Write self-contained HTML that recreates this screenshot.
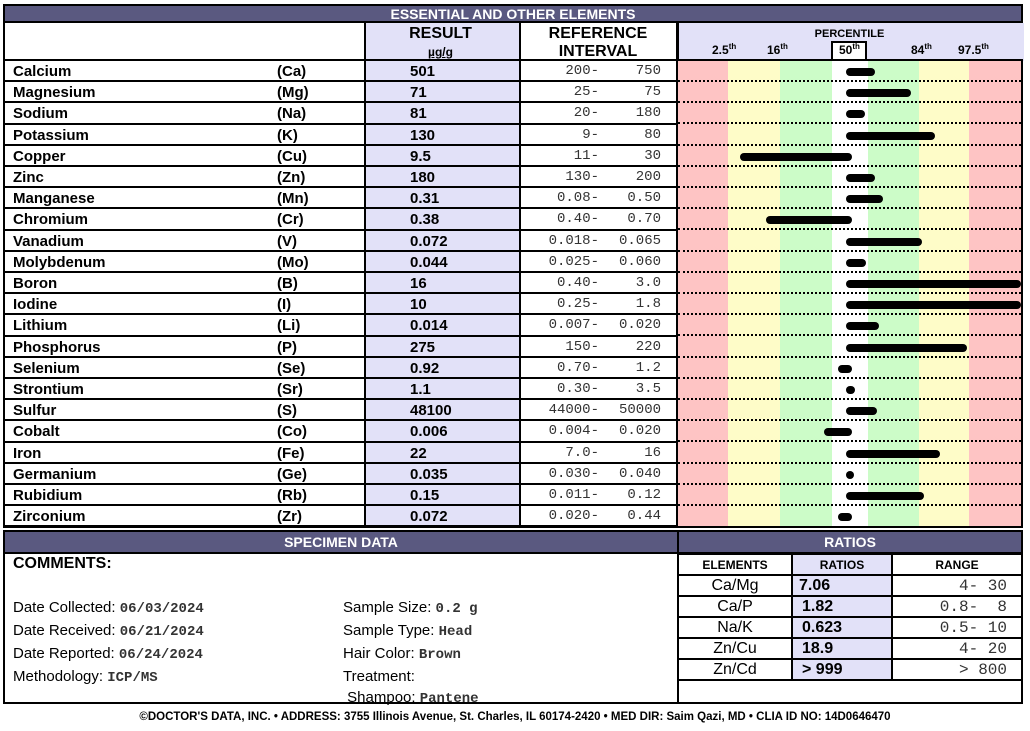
<!DOCTYPE html><html><head><style>
body{margin:0;width:1030px;height:731px;background:#fff;position:relative;font-family:"Liberation Sans",Arial,sans-serif;overflow:hidden}
.a{position:absolute}
.hdr{background:#5a5980;color:#fff;font-weight:bold;font-size:14px;text-align:center;border:2px solid #000;box-sizing:border-box}
.row{position:absolute;left:3px;width:674px;height:21.2px;border-bottom:2px solid #000;box-sizing:border-box;font-size:15px;font-weight:bold}
.row span{position:absolute;top:2px}
.mono{font-family:"Liberation Mono",monospace;font-weight:normal;font-size:14px;color:#333}
.bar{position:absolute;height:8px;background:#000;border-radius:4px}
.dot{position:absolute;left:678px;width:343px;border-bottom:2px dotted #000}
.rt td{border:2px solid #000;height:19px;padding:0;text-align:center;font-size:16px}
</style></head><body>
<div class="a" style="left:3px;top:4px;width:1020px;height:524px;border:2px solid #000;box-sizing:border-box"></div>
<div class="a hdr" style="left:3px;top:4px;width:1020px;height:19px;line-height:17px">ESSENTIAL AND OTHER ELEMENTS</div>
<div class="a" style="left:364px;top:23px;width:153px;height:504px;background:#e2e1f8;border-left:2px solid #000;border-right:2px solid #000"></div>
<div class="a" style="left:677px;top:23px;width:345px;height:38px;background:#e2e1f8;border-left:2px solid #000"></div>
<div class="a" style="left:364px;top:25px;width:153px;text-align:center;font-weight:bold;font-size:16px;line-height:18px">RESULT<br><span style="font-size:12px;text-decoration:underline">µg/g</span></div>
<div class="a" style="left:519px;top:25px;width:158px;text-align:center;font-weight:bold;font-size:16px;line-height:18px">REFERENCE<br>INTERVAL</div>
<div class="a" style="left:677px;top:28px;width:345px;text-align:center;font-weight:bold;font-size:11px">PERCENTILE</div>
<div class="a" style="left:831px;top:41px;width:36px;height:20px;background:#fff;border:2px solid #000;border-bottom:none;box-sizing:border-box"></div>
<div class="a" style="top:42px;left:712px;font-weight:bold;font-size:12px">2.5<sup style="font-size:8px">th</sup></div>
<div class="a" style="top:42px;left:767px;font-weight:bold;font-size:12px">16<sup style="font-size:8px">th</sup></div>
<div class="a" style="top:42px;left:839px;font-weight:bold;font-size:12px">50<sup style="font-size:8px">th</sup></div>
<div class="a" style="top:42px;left:911px;font-weight:bold;font-size:12px">84<sup style="font-size:8px">th</sup></div>
<div class="a" style="top:42px;left:958px;font-weight:bold;font-size:12px">97.5<sup style="font-size:8px">th</sup></div>
<div class="a" style="left:3px;top:59px;width:1020px;border-top:2px solid #000"></div>
<div class="a" style="left:678px;top:61px;width:50px;height:465px;background:#fec4c4"></div>
<div class="a" style="left:728px;top:61px;width:52px;height:465px;background:#fefcc8"></div>
<div class="a" style="left:780px;top:61px;width:52px;height:465px;background:#ccfcc8"></div>
<div class="a" style="left:868px;top:61px;width:51px;height:465px;background:#ccfcc8"></div>
<div class="a" style="left:919px;top:61px;width:50px;height:465px;background:#fefcc8"></div>
<div class="a" style="left:969px;top:61px;width:52px;height:465px;background:#fec4c4"></div>
<div class="a" style="left:676px;top:23px;width:2px;height:504px;background:#000"></div>
<div id="rows"></div>
<script>
const d=[["Calcium","Ca","501","200-","750",846,875],["Magnesium","Mg","71","25-","75",846,911],["Sodium","Na","81","20-","180",846,865],["Potassium","K","130","9-","80",846,935],["Copper","Cu","9.5","11-","30",740,852],["Zinc","Zn","180","130-","200",846,875],["Manganese","Mn","0.31","0.08-","0.50",846,883],["Chromium","Cr","0.38","0.40-","0.70",766,852],["Vanadium","V","0.072","0.018-","0.065",846,922],["Molybdenum","Mo","0.044","0.025-","0.060",846,866],["Boron","B","16","0.40-","3.0",846,1021],["Iodine","I","10","0.25-","1.8",846,1021],["Lithium","Li","0.014","0.007-","0.020",846,879],["Phosphorus","P","275","150-","220",846,967],["Selenium","Se","0.92","0.70-","1.2",838,852],["Strontium","Sr","1.1","0.30-","3.5",846,855],["Sulfur","S","48100","44000-","50000",846,877],["Cobalt","Co","0.006","0.004-","0.020",824,852],["Iron","Fe","22","7.0-","16",846,940],["Germanium","Ge","0.035","0.030-","0.040",846,854],["Rubidium","Rb","0.15","0.011-","0.12",846,924],["Zirconium","Zr","0.072","0.020-","0.44",838,852]];
let h="";d.forEach((r,i)=>{const t=61+21.2*i;
h+=`<div class="row" style="top:${t}px"><span style="left:10px">${r[0]}</span><span style="left:274px">(${r[1]})</span><span style="left:407px">${r[2]}</span><span class="mono" style="right:78px">${r[3]}</span><span class="mono" style="right:16px">${r[4]}</span></div>`;
if(i<21)h+=`<div class="dot" style="top:${t+19}px"></div>`;
h+=`<div class="bar" style="left:${r[5]}px;width:${r[6]-r[5]}px;top:${t+7}px"></div>`;});
document.getElementById("rows").innerHTML=h;
</script>
<div class="a" style="left:3px;top:530px;width:1020px;height:174px;border:2px solid #000;box-sizing:border-box"></div>
<div class="a hdr" style="left:3px;top:530px;width:676px;height:24px;line-height:21px">SPECIMEN DATA</div>
<div class="a hdr" style="left:677px;top:530px;width:346px;height:24px;line-height:21px">RATIOS</div>
<div class="a" style="left:677px;top:552px;width:2px;height:150px;background:#000"></div>
<div class="a" style="left:13px;top:555px;font-weight:bold;font-size:16px">COMMENTS:</div>
<div class="a" style="left:13px;top:597px;font-size:15px;line-height:21px">Date Collected: <b class="mono" style="font-weight:bold">06/03/2024</b><br>Date Received: <b class="mono" style="font-weight:bold">06/21/2024</b><br>Date Reported: <b class="mono" style="font-weight:bold">06/24/2024</b><br>Methodology: <b class="mono" style="font-weight:bold">ICP/MS</b></div>
<div class="a" style="left:343px;top:597px;font-size:15px;line-height:21px">Sample Size: <b class="mono" style="font-weight:bold">0.2 g</b><br>Sample Type: <b class="mono" style="font-weight:bold">Head</b><br>Hair Color: <b class="mono" style="font-weight:bold">Brown</b><br>Treatment:<br>&nbsp;Shampoo: <b class="mono" style="font-weight:bold">Pantene</b></div>
<table class="a rt" style="left:677px;top:553px;width:346px;border-collapse:collapse">
<tr><td style="width:112px;font-size:12px;font-weight:bold">ELEMENTS</td><td style="width:98px;background:#e2e1f8;font-size:12px;font-weight:bold">RATIOS</td><td style="font-size:12px;font-weight:bold">RANGE</td></tr>
<tr><td>Ca/Mg</td><td style="background:#e2e1f8;font-weight:bold;text-align:left;padding-left:6px">7.06</td><td class="mono" style="text-align:right;padding-right:14px">4- 30</td></tr>
<tr><td>Ca/P</td><td style="background:#e2e1f8;font-weight:bold;text-align:left;padding-left:9px">1.82</td><td class="mono" style="text-align:right;padding-right:14px">0.8-&nbsp; 8</td></tr>
<tr><td>Na/K</td><td style="background:#e2e1f8;font-weight:bold;text-align:left;padding-left:9px">0.623</td><td class="mono" style="text-align:right;padding-right:14px">0.5- 10</td></tr>
<tr><td>Zn/Cu</td><td style="background:#e2e1f8;font-weight:bold;text-align:left;padding-left:9px">18.9</td><td class="mono" style="text-align:right;padding-right:14px">4- 20</td></tr>
<tr><td>Zn/Cd</td><td style="background:#e2e1f8;font-weight:bold;text-align:left;padding-left:9px">&gt; 999</td><td class="mono" style="text-align:right;padding-right:14px">&gt; 800</td></tr>
</table>
<div class="a" style="left:0;top:711px;width:1030px;text-align:center;font-weight:bold;font-size:11.5px">©DOCTOR'S DATA, INC. • ADDRESS: 3755 Illinois Avenue, St. Charles, IL 60174-2420 • MED DIR: Saim Qazi, MD • CLIA ID NO: 14D0646470</div>
</body></html>
